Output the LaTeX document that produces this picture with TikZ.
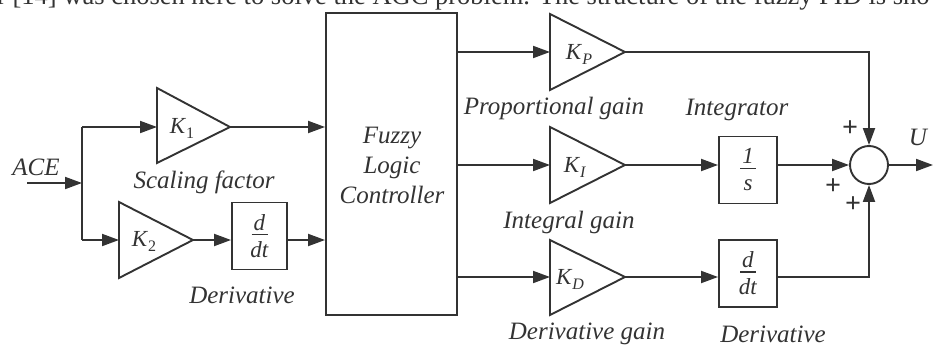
\documentclass[tikz,border=0pt]{standalone}
\usepackage{fontspec}
\setmainfont{Liberation Serif}
\usetikzlibrary{arrows.meta}
\definecolor{linec}{HTML}{333333}
\definecolor{txtc}{HTML}{333333}
\newcommand{\Kx}[1]{\textit{K}\raisebox{-5pt}{\fontsize{16}{16}\selectfont #1}}
\newcommand{\frc}[2]{\vbox{\baselineskip=13.5pt\lineskiplimit=-100pt\lineskip=0pt
  \halign{\hfil##\hfil\cr\textit{#1}\cr\rule[8.5pt]{16pt}{1.4pt}\cr\textit{#2}\cr}}}
\begin{document}
\begin{tikzpicture}[x=1pt,y=-1pt,
  ln/.style={line width=1.9pt, draw=linec},
  arr/.style={ln, -{Triangle[length=17pt,width=12pt]}},
  blk/.style={draw=linec, line width=1.9pt, rectangle, inner sep=0pt, text=txtc},
  lbl/.style={font=\fontsize{25}{30}\selectfont\itshape, text=txtc, inner sep=0pt},
  kl/.style={font=\fontsize{23}{25}\selectfont, text=txtc, inner sep=0pt},
  fr/.style={font=\fontsize{23}{24}\selectfont},
  plus/.style={font=\fontsize{28}{28}\selectfont\bfseries, text=txtc, inner sep=0pt},
  sumc/.style={draw=linec, line width=1.9pt, circle, minimum size=38pt, inner sep=0pt}
]
\useasboundingbox (0,0) rectangle (933,345);
\clip (0,0) rectangle (933,345);

% partial text line at the top
\node[anchor=base west, inner sep=0pt, font=\fontsize{26.5}{29}\selectfont, text=txtc] (cap) at (-3,5)
  {r [14] was chosen here to solve the AGC problem. The structure of the fuzzy PID is sho};

% ---- left part ----
\coordinate (acein) at (27,183);
\coordinate (br) at (82,183);
\coordinate (brtop) at (82,127);
\coordinate (brbot) at (82,240);
\node[lbl] (ace) at (36,167) {ACE};

% K1 triangle
\coordinate (k1in) at (157,127);
\coordinate (k1out) at (230,127);
\draw[ln, line join=miter] (157,88) -- (157,163) -- (k1out) -- cycle;
\node[kl] (k1) at (182,128) {\Kx{1}};
% K2 triangle
\coordinate (k2in) at (119,240);
\coordinate (k2out) at (193,240);
\draw[ln, line join=miter] (119,202) -- (119,278) -- (k2out) -- cycle;
\node[kl] (k2) at (144,241) {\Kx{2}};

\node[blk, fr, minimum width=55pt, minimum height=67pt] (dd1) at (259.5,236) {\frc{d}{dt}};

\node[lbl] (lsc) at (204,182) {Scaling factor};
\node[lbl] (lde1) at (242,295) {Derivative};

% ---- FLC ----
\node[blk, minimum width=131pt, minimum height=302pt] (flc) at (391.5,164) {};
\node[lbl, align=center] (flct) at (392,165) {Fuzzy\\Logic\\Controller};

% ---- gains ----
\coordinate (kpin) at (550,52);
\coordinate (kpout) at (625,52);
\draw[ln, line join=miter] (550,14) -- (550,90) -- (kpout) -- cycle;
\node[kl] (kp) at (579,54) {\Kx{\textit{P}}};

\coordinate (kiin) at (550,165);
\coordinate (kiout) at (625,165);
\draw[ln, line join=miter] (550,127) -- (550,203) -- (kiout) -- cycle;
\node[kl] (ki) at (575,167) {\Kx{\textit{I}}};

\coordinate (kdin) at (550,277);
\coordinate (kdout) at (625,277);
\draw[ln, line join=miter] (550,240) -- (550,315) -- (kdout) -- cycle;
\node[kl] (kd) at (570,279) {\Kx{\textit{D}}};

\node[lbl] (lpg) at (554,108) {Proportional gain};
\node[lbl] (lig) at (569,222) {Integral gain};
\node[lbl] (ldg) at (587,334) {Derivative gain};

% ---- right part ----
\node[blk, fr, minimum width=58pt, minimum height=67pt] (intg) at (748,170) {\frc{1}{s}};
\node[blk, fr, minimum width=58pt, minimum height=67pt] (dd2) at (748,273.5) {\frc{d}{dt}};
\node[lbl] (lint) at (737,110) {Integrator};
\node[lbl] (lde2) at (773,334) {Derivative};

\node[sumc] (sum) at (869,165) {};
\coordinate (uout) at (933,165);
\node[lbl] (u) at (918,137) {U};
\node[plus] (p1) at (850,129) {+};
\node[plus] (p2) at (833,187) {+};
\node[plus] (p3) at (853,205) {+};

% ---- connectors ----
\draw[arr] (acein) -- (br);
\draw[ln] (brtop) -- (brbot);
\draw[arr] (brtop) -- (k1in);
\draw[arr] (brbot) -- (k2in);
\draw[arr] (k2out) -- (k2out -| dd1.west);
\draw[arr] (dd1.east |- k2out) -- (flc.west |- k2out);
\draw[arr] (k1out) -- (flc.west |- k1out);

\draw[arr] (flc.east |- kpin) -- (kpin);
\draw[arr] (flc.east |- kiin) -- (kiin);
\draw[arr] (flc.east |- kdin) -- (kdin);

\draw[arr] (kpout) -| (sum.north);
\draw[arr] (kiout) -- (intg.west |- kiout);
\draw[arr] (intg.east |- sum) -- (sum.west);
\draw[arr] (kdout) -- (dd2.west |- kdout);
\draw[arr] (dd2.east |- kdout) -| (sum.south);
\draw[arr] (sum.east) -- (uout);
\end{tikzpicture}
\end{document}
